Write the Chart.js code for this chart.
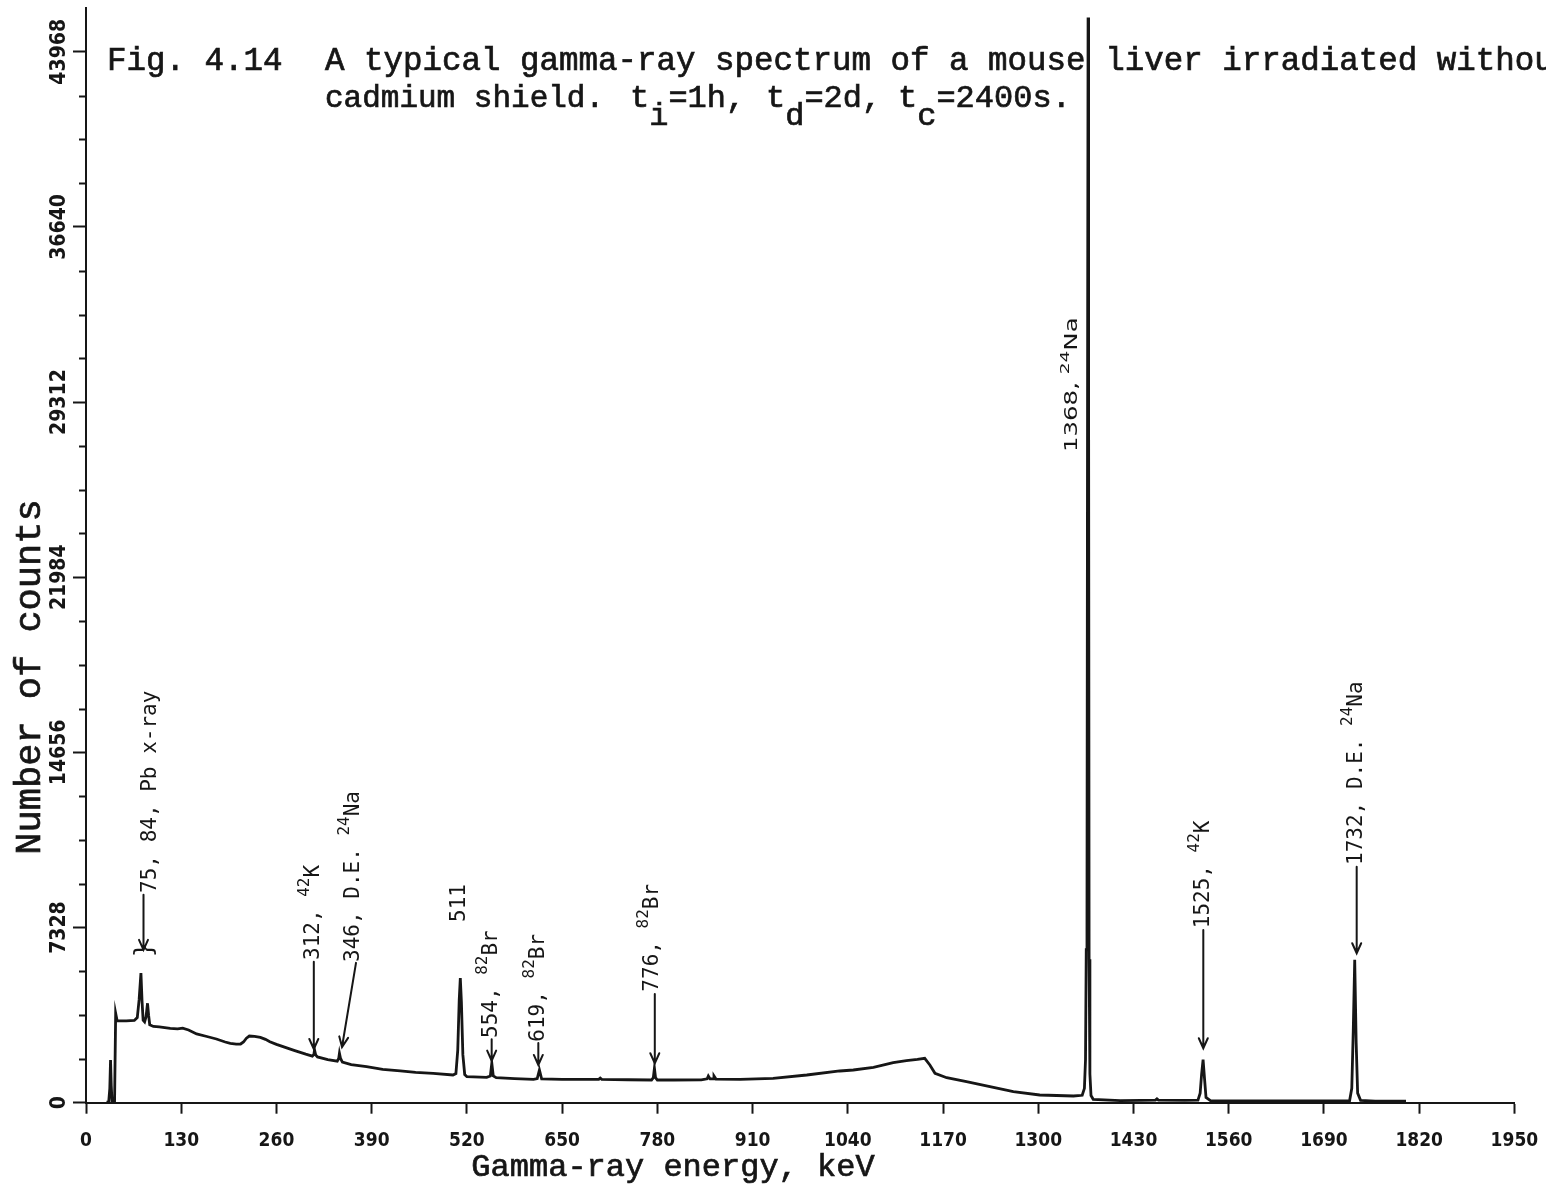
<!DOCTYPE html>
<html>
<head>
<meta charset="utf-8">
<title>Gamma-ray spectrum of a mouse liver</title>
<script src="https://cdn.jsdelivr.net/npm/chart.js@4.4.1/dist/chart.umd.min.js"></script>
<style>
  html, body { margin: 0; padding: 0; background: #ffffff; }
  #wrap { width: 1546px; height: 1189px; }
</style>
</head>
<body>
<div id="wrap"><canvas id="spectrum" width="1546" height="1189"></canvas></div>
<script>
// Sampled channels of the spectrum: gamma-ray energy (keV)
const energyKeV = [
  28, 31, 32.5, 33.5, 34.5, 35.5, 39, 40.5, 42.5, 55, 66, 70, 72.5, 75, 76.5, 78, 80, 82, 84, 85.5,
  87, 92, 100, 115, 125, 132, 140, 151, 165, 178, 190, 197, 205, 211, 215, 219, 223, 230, 238, 245,
  251, 260, 269, 285, 300, 309, 311, 312, 313.5, 316, 330, 343, 345, 346, 347.5, 350, 362, 383, 405, 429,
  450, 474, 501, 505, 507.5, 509.5, 511, 512.5, 514.5, 517, 520, 547, 552, 554, 556, 560, 585, 611, 616, 619,
  622, 650, 700, 702, 704, 740, 772, 774.5, 776, 777.5, 780, 802, 840, 848, 849.6, 852, 856, 857.3, 860, 893,
  938, 984, 1029, 1047.5, 1075, 1102, 1120, 1135, 1145, 1152, 1159, 1175, 1202, 1234, 1266, 1302, 1348, 1360, 1363, 1364.5,
  1365.5, 1366.5, 1367.3, 1368, 1368.7, 1369.4, 1370.5, 1372, 1375, 1412, 1440, 1460, 1462, 1464, 1500, 1518, 1521, 1523, 1525, 1527,
  1529, 1535, 1600, 1700, 1725, 1728, 1730, 1732, 1734, 1736, 1740, 1760, 1802
];
// Number of counts in each sampled channel
const counts = [
  20, 25, 600, 1790, 700, 60, 40, 3740, 3430, 3420, 3440, 3560, 4300, 5420, 4250, 3450, 3380, 3600, 4160, 3650,
  3260, 3190, 3170, 3110, 3090, 3120, 3040, 2875, 2770, 2665, 2540, 2485, 2450, 2456, 2540, 2700, 2790, 2775, 2735, 2650,
  2553, 2440, 2344, 2180, 2030, 1950, 2010, 2205, 2000, 1915, 1800, 1735, 1850, 2067, 1850, 1700, 1590, 1507, 1390, 1330,
  1270, 1230, 1160, 1220, 2200, 4300, 5210, 4200, 2000, 1180, 1090, 1060, 1120, 1650, 1120, 1050, 1010, 980, 1010, 1370,
  1000, 975, 975, 1030, 975, 960, 950, 1050, 1440, 1050, 950, 950, 955, 1000, 1117, 995, 1000, 1117, 990, 979,
  1021, 1159, 1327, 1368, 1481, 1674, 1758, 1810, 1858, 1578, 1230, 1046, 879, 670, 460, 322, 280, 310, 600, 1800,
  6400, 7200, 30000, 45400, 30000, 6000, 1200, 300, 142, 84, 100, 110, 160, 110, 100, 110, 400, 1200, 1800, 1000,
  220, 90, 80, 75, 80, 600, 3000, 5980, 2500, 400, 100, 70, 70
];
// Axis tick values
const energyTicks = [0, 130, 260, 390, 520, 650, 780, 910, 1040, 1170, 1300, 1430, 1560, 1690, 1820, 1950];
const countTicks = [0, 7328, 14656, 21984, 29312, 36640, 43968];
const countMinorStep = 1832;

// Peak identifications (text segments; arrays are superscripts)
const peakLabels = [
  ['75, 84, Pb x-ray'],
  ['312, ', ['42'], 'K'],
  ['346, D.E. ', ['24'], 'Na'],
  ['511'],
  ['554, ', ['82'], 'Br'],
  ['619, ', ['82'], 'Br'],
  ['776, ', ['82'], 'Br'],
  ['1368, ', ['24'], 'Na'],
  ['1525, ', ['42'], 'K'],
  ['1732, D.E. ', ['24'], 'Na']
];

// Where each identification sits (keV, counts) and where its arrow runs
const labelPlacement = [
  { at: [88.7, 8776], arrow: [78.5, 8700, 78.5, 6393], brace: [78.5, 6100] },
  { at: [311.3, 5972], arrow: [311, 5900, 311, 2246] },
  { at: [365.9, 5888], arrow: [368.6, 5850, 349.5, 2330] },
  { at: [510.6, 7562] },
  { at: [553.8, 2707], arrow: [553.8, 2650, 553.8, 1758] },
  { at: [618.0, 2553], arrow: [617.5, 2500, 617.5, 1578] },
  { at: [773.4, 4646], arrow: [776.5, 4550, 776.5, 1649] },
  { at: [1347.5, 27220], small: true },
  { at: [1525.3, 7298], arrow: [1525.3, 7230, 1525.3, 2277] },
  { at: [1734.7, 9947], arrow: [1734.7, 9870, 1734.7, 6252] }
];

const INK = '#161616';
const TYPE_FONT = "'Liberation Mono', 'Courier New', monospace";
const LABEL_FONT = "'DejaVu Sans Mono', monospace";
const NARROW_FONT = "'Liberation Sans Narrow', 'DejaVu Sans Condensed', sans-serif";

// Draw text rotated a quarter turn so it reads bottom-to-top
function drawUpright(ctx, x, y, parts, size, family, stretch) {
  ctx.save();
  ctx.translate(x, y);
  ctx.rotate(-Math.PI / 2);
  ctx.scale(stretch || 1, 1);
  ctx.textAlign = 'left';
  ctx.textBaseline = 'middle';
  let cx = 0;
  parts.forEach(p => {
    const sup = Array.isArray(p);
    const txt = sup ? p[0] : p;
    const s = sup ? size * 0.76 : size;
    ctx.font = `${s}px ${family}`;
    ctx.fillText(txt, cx, sup ? -size * 0.42 : 0);
    cx += ctx.measureText(txt).width;
  });
  ctx.restore();
}

// Typewriter-style text: a light outline thickens the strokes
function typeText(ctx, txt, x, y) {
  ctx.fillText(txt, x, y);
  ctx.strokeText(txt, x, y);
}

function drawArrow(ctx, x1, y1, x2, y2) {
  const ang = Math.atan2(y2 - y1, x2 - x1);
  const head = 11, spread = 0.42;
  ctx.beginPath();
  ctx.moveTo(x1, y1);
  ctx.lineTo(x2, y2);
  ctx.moveTo(x2 - head * Math.cos(ang - spread), y2 - head * Math.sin(ang - spread));
  ctx.lineTo(x2, y2);
  ctx.lineTo(x2 - head * Math.cos(ang + spread), y2 - head * Math.sin(ang + spread));
  ctx.stroke();
}

const paperPlugin = {
  id: 'paper',
  beforeDraw(chart) {
    const { ctx, width, height } = chart;
    ctx.save();
    ctx.fillStyle = '#ffffff';
    ctx.fillRect(0, 0, width, height);
    ctx.restore();
  },
  beforeDatasetsDraw(chart) {
    // Figure caption, typed across the top of the plot
    const { ctx } = chart;
    ctx.save();
    ctx.fillStyle = INK;
    ctx.strokeStyle = INK;
    ctx.lineWidth = 0.7;
    ctx.textBaseline = 'alphabetic';
    ctx.textAlign = 'left';
    ctx.font = `32.5px ${TYPE_FONT}`;
    typeText(ctx, 'Fig. 4.14', 107, 70);
    typeText(ctx, 'A typical gamma-ray spectrum of a mouse liver irradiated without', 325, 70);
    const y2 = 107;
    ctx.font = `31px ${TYPE_FONT}`;
    typeText(ctx, 'cadmium shield.', 325, y2);
    // time parameters: irradiation, decay and counting times
    ctx.font = `32px ${TYPE_FONT}`;
    const timing = [['t', 'i', '=1h,', 630], ['t', 'd', '=2d,', 766], ['t', 'c', '=2400s.', 898]];
    timing.forEach(([t, sub, rest, x0]) => {
      let x = x0;
      typeText(ctx, t, x, y2); x += ctx.measureText(t).width;
      typeText(ctx, sub, x, y2 + 18); x += ctx.measureText(sub).width;
      typeText(ctx, rest, x, y2);
    });
    ctx.restore();
  },
  afterDatasetsDraw(chart) {
    const { ctx, scales: { x: sx, y: sy } } = chart;
    ctx.save();
    ctx.fillStyle = INK;
    ctx.strokeStyle = INK;
    ctx.lineWidth = 2;
    ctx.lineCap = 'round';
    peakLabels.forEach((parts, i) => {
      const p = labelPlacement[i];
      const px = sx.getPixelForValue(p.at[0]);
      const py = sy.getPixelForValue(p.at[1]);
      if (p.small) {
        drawUpright(ctx, px, py, parts, 17, NARROW_FONT, 1.6);
      } else {
        drawUpright(ctx, px, py, parts, 21, LABEL_FONT);
      }
      if (p.arrow) {
        drawArrow(ctx,
          sx.getPixelForValue(p.arrow[0]), sy.getPixelForValue(p.arrow[1]),
          sx.getPixelForValue(p.arrow[2]), sy.getPixelForValue(p.arrow[3]));
      }
      if (p.brace) {
        drawUpright(ctx, sx.getPixelForValue(p.brace[0]) + 2, sy.getPixelForValue(p.brace[1]), ['}'], 24, LABEL_FONT);
      }
    });
    ctx.restore();
  },
  afterDraw(chart) {
    const { ctx, scales: { x: sx, y: sy } } = chart;
    ctx.save();
    ctx.fillStyle = INK;
    ctx.strokeStyle = INK;
    ctx.lineWidth = 2;
    // minor ticks on the counts axis
    const left = sx.getPixelForValue(0);
    ctx.beginPath();
    for (let v = countMinorStep; v < countTicks[countTicks.length - 1]; v += countMinorStep) {
      if (countTicks.includes(v)) continue;
      const py = Math.round(sy.getPixelForValue(v)) + 0.5;
      ctx.moveTo(left - 7, py);
      ctx.lineTo(left, py);
    }
    ctx.stroke();
    // counts tick labels, reading upward
    countTicks.forEach(v => {
      ctx.save();
      ctx.translate(60, sy.getPixelForValue(v));
      ctx.rotate(-Math.PI / 2);
      ctx.textAlign = 'center';
      ctx.textBaseline = 'middle';
      ctx.font = `bold 21px ${NARROW_FONT}`;
      ctx.fillText(String(v), 0, 0);
      ctx.restore();
    });
    // energy tick labels
    ctx.textAlign = 'center';
    ctx.textBaseline = 'middle';
    ctx.font = `bold 19px ${NARROW_FONT}`;
    energyTicks.forEach(v => {
      ctx.fillText(String(v), sx.getPixelForValue(v), 1141);
    });
    // axis titles
    ctx.lineWidth = 0.7;
    ctx.font = `32px ${TYPE_FONT}`;
    ctx.textBaseline = 'alphabetic';
    typeText(ctx, 'Gamma-ray energy, keV', 673, 1176);
    ctx.save();
    ctx.translate(30, 677);
    ctx.rotate(-Math.PI / 2);
    ctx.textBaseline = 'middle';
    ctx.font = `37px ${TYPE_FONT}`;
    typeText(ctx, 'Number of counts', 0, 0);
    ctx.restore();
    ctx.restore();
  }
};

const ctx = document.getElementById('spectrum').getContext('2d');
new Chart(ctx, {
  type: 'line',
  data: {
    datasets: [{
      data: energyKeV.map((e, i) => ({ x: e, y: counts[i] })),
      borderColor: INK,
      borderWidth: 2.8,
      pointRadius: 0,
      tension: 0,
      fill: false
    }]
  },
  options: {
    responsive: false,
    animation: false,
    devicePixelRatio: 1,
    layout: { padding: { left: 73, right: 31.6, top: 8, bottom: 75.3 } },
    plugins: { legend: { display: false }, tooltip: { enabled: false }, title: { display: false } },
    scales: {
      x: {
        type: 'linear',
        min: 0,
        max: 1950,
        border: { display: true, width: 2, color: INK },
        grid: { drawOnChartArea: false, drawTicks: true, tickLength: 11, tickWidth: 2, tickColor: INK },
        ticks: { display: false, stepSize: 130, includeBounds: false },
        afterBuildTicks: s => { s.ticks = energyTicks.map(v => ({ value: v })); }
      },
      y: {
        type: 'linear',
        min: 0,
        max: 45800,
        border: { display: true, width: 2, color: INK },
        grid: { drawOnChartArea: false, drawTicks: true, tickLength: 13, tickWidth: 2, tickColor: INK },
        ticks: { display: false, stepSize: 7328, includeBounds: false },
        afterBuildTicks: s => { s.ticks = countTicks.map(v => ({ value: v })); }
      }
    }
  },
  plugins: [paperPlugin]
});
</script>
</body>
</html>
